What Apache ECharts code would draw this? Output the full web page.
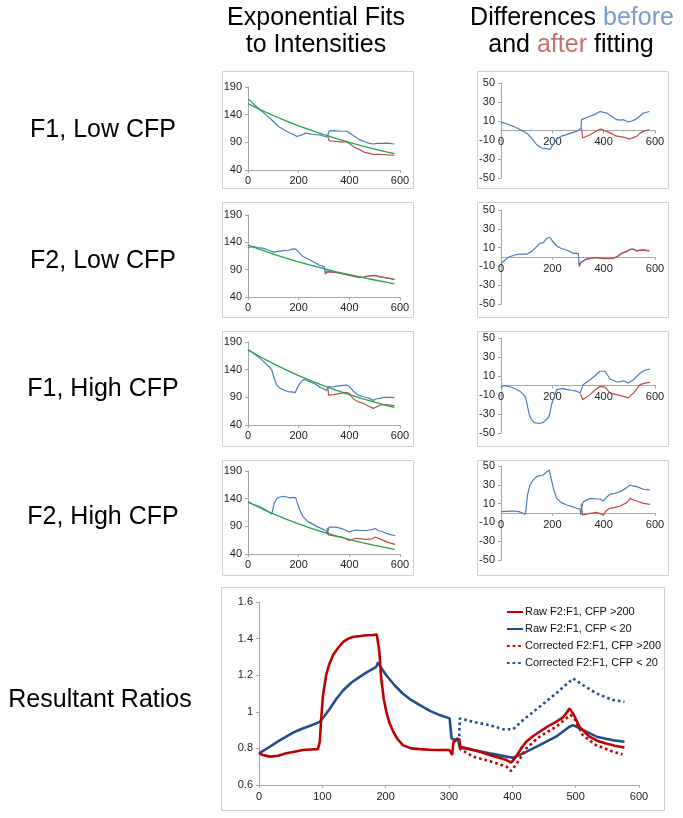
<!DOCTYPE html>
<html><head><meta charset="utf-8">
<script src="https://cdn.jsdelivr.net/npm/echarts@6/dist/echarts.min.js"></script>
<style>html,body{margin:0;padding:0;background:#fff}#c{width:683px;height:818px}</style>
</head><body><div id="c"></div><script>
// ---------- DATA (x, value) ----------
const f1LowBlue = [[0,168],[10,165],[25,158],[48,149],[70,140],[95,130],[121,118.6],[145,112],[167,106.5],[180,104],[193,100.5],[210,103],[226,106.5],[250,105],[270,104],[285,103.5],[300,101],[312,100],[316,104],[320,110.8],[340,111],[365,110],[390,110],[410,104],[430,98],[443,94.4],[460,91],[480,88],[495,87],[510,88],[530,88],[550,88.5],[578,87]];
const f1LowRed = [[316,100],[320,92.6],[340,92],[365,91],[385,91],[400,88],[415,83],[430,79],[443,76.3],[460,72],[480,70],[495,68],[510,68.5],[530,68],[550,67.5],[578,67]];
const f1LowFit = [[0,160],[50,148.7],[100,138.5],[150,128.9],[200,119.9],[250,111.5],[300,103.8],[350,96.6],[400,89.8],[450,83.6],[500,77.8],[550,72.3],[578,69.5]];
const f1LowDiffBlue = [[0,8],[10,8.5],[30,6],[48,4.4],[70,1.5],[87,-0.9],[105,-4],[119,-7.9],[139,-15],[158,-18.4],[178,-19],[191,-20],[200,-16],[217,-9],[235,-6],[256,-4.4],[275,-2.5],[295,-0.9],[312,2.6],[314,11.4],[320,12],[347,15],[365,17],[386,20],[400,19],[412,18.4],[430,15],[451,11.4],[465,11],[477,11.4],[496,9],[510,10],[522,11.4],[540,15],[555,18.4],[578,20]];
const f1LowDiffRed = [[314,2],[318,-7.9],[347,-4.4],[365,-1.5],[386,1.6],[400,0.5],[412,-0.9],[430,-3],[451,-6],[477,-7],[490,-8],[503,-9],[516,-7.5],[529,-6],[540,-3],[555,-0.9],[578,1]];

const f2LowBlue = [[0,129.5],[10,131.5],[22,132],[40,130.5],[62,129],[80,126],[101,122],[120,123.5],[140,125],[160,125.5],[178,128],[190,127],[200,122],[217,114],[235,110],[256,105],[282,98],[301,95.5],[305,82],[309,88],[314,86.5],[330,86],[347,85],[370,83],[399,80],[420,78],[438,76],[455,76],[470,78],[490,79],[503,79.5],[520,77],[540,75.5],[560,74],[578,72]];
const f2LowRed = [[305,82],[314,86],[347,84.8],[370,82.8],[399,79.8],[420,77.6],[438,75.8],[455,76],[470,78],[490,79],[503,79.3],[520,76.8],[540,75.3],[560,73.8],[578,71.8]];
const f2LowFit = [[0,135],[50,126.5],[100,118.5],[150,111.2],[200,104.3],[250,98],[300,91.7],[350,86.1],[400,80.8],[450,75.8],[500,71.1],[550,66.8],[578,64]];
const f2LowDiffBlue = [[0,-6.7],[8,-5],[16,-3.2],[30,0],[55,2.1],[70,3],[87,3.2],[100,3],[106,3.2],[120,6],[132,9.2],[152,14.5],[165,15.2],[178,19.9],[185,21],[191,21],[200,17],[217,11.7],[235,9],[256,7.4],[282,3.9],[301,3.9],[303,2],[305,-10],[310,-6],[314,-5],[330,-2.5],[347,-1.4],[370,-0.5],[399,-1.4],[420,-1.5],[438,-1.4],[455,1],[470,3.9],[490,6],[503,8.2],[515,8.5],[529,6.7],[550,7.5],[578,6.7]];
const f2LowDiffRed = [[305,-10],[310,-6],[314,-5],[330,-2.7],[347,-1.6],[370,-0.7],[399,-1.6],[420,-1.7],[438,-1.6],[455,0.8],[470,3.7],[490,5.8],[503,8],[515,8.3],[529,6.5],[550,7.3],[578,6.5]];

const f1HighBlue = [[0,176],[20,170],[49,160],[70,151],[88,143],[95,138],[101,128],[107,120],[114,112],[125,107],[140,103.5],[160,100],[173,100],[186,98.5],[190,100],[200,112],[210,118],[219,122],[230,121],[245,118],[265,114],[285,108],[300,105],[311,102],[315,109],[340,109.5],[364,111],[390,112],[400,110],[416,101],[435,94],[456,91],[475,89],[495,84.5],[505,87],[521,88],[534,90],[560,90],[578,89.5]];
const f1HighRed = [[315,109],[318,94],[340,95],[364,97],[386,99],[400,97],[416,87],[435,82],[456,79],[477,74],[495,70],[505,72],[521,76],[542,77],[560,76],[578,75]];
const f1HighFit = [[0,176],[50,162.9],[100,150.8],[150,139.6],[200,129.2],[250,119.6],[300,110.7],[350,102.5],[400,94.9],[450,87.8],[500,81.3],[550,75.2],[578,72]];
const f1HighDiffBlue = [[0,-2.6],[9,0],[30,-1],[48,-2.6],[74,-6],[94,-11.4],[98,-15],[103,-22],[110,-30],[119,-36],[129,-39],[139,-39.5],[150,-40],[165,-38.8],[184,-34],[190,-30],[197,-20],[207,-12],[217,-4.4],[223,-2.6],[240,-3],[256,-4.4],[275,-5],[295,-6],[308,-8],[310,-9],[320,0.9],[347,6],[365,10],[386,15],[405,15],[425,6.8],[451,3.7],[465,4],[477,5],[496,2.6],[516,6],[542,13],[560,16],[581,17.4]];
const f1HighDiffRed = [[310,-9],[318,-15],[347,-9.6],[365,-5],[386,-0.9],[405,-1.6],[425,-8],[451,-9.6],[477,-11.4],[496,-13],[516,-8],[542,0.9],[560,2.5],[581,3.3]];

const f2HighBlue = [[0,135],[20,130],[48,125.4],[70,119.5],[94,112.5],[97,118],[103,131],[113,139.8],[125,143],[139,144],[154,143],[165,141.5],[178,142.5],[188,142],[195,132],[204,120],[217,107.5],[235,99],[256,94],[275,89],[295,85],[308,82],[312,75.5],[320,88.5],[347,88.5],[370,86],[386,83],[399,80],[425,83.3],[445,82.5],[464,82.5],[490,84],[503,86],[515,82],[529,80.7],[555,76],[581,73]];
const f2HighRed = [[312,87],[318,74.5],[347,72.3],[373,70.2],[399,64.4],[425,68.4],[464,66.6],[490,67.5],[503,70.8],[529,65.5],[555,60.6],[581,57.3]];
const f2HighFit = [[0,134],[50,122.7],[100,112.4],[150,102.9],[200,94.3],[250,86.3],[300,79.1],[350,72.4],[400,66.3],[450,60.7],[500,55.6],[550,50.9],[578,48.4]];
const f2HighDiffBlue = [[0,1.4],[20,1.8],[48,2.1],[70,1.5],[94,-1.4],[98,5],[103,19],[113,29.8],[125,35],[139,38.7],[154,40],[165,40.4],[178,44],[188,45.7],[195,37],[204,26.2],[217,15.6],[235,11],[256,8.5],[275,7],[295,5],[308,4.3],[311,-2],[314,5],[320,12],[347,15.6],[370,15],[386,14.9],[399,12.8],[412,17],[425,19.9],[445,21],[464,22.7],[490,27],[503,29.8],[515,28.5],[529,28],[555,25.2],[581,24.5]];
const f2HighDiffRed = [[312,10],[314,5],[318,-2],[347,-0.4],[373,0.7],[399,-2],[412,3],[425,5],[445,6],[464,7.4],[490,11],[503,15.6],[515,14],[529,12.8],[555,10.3],[581,9.2]];

const rawHigh = [[0,0.775],[5,0.765],[17,0.755],[30,0.76],[43,0.773],[56,0.782],[69,0.791],[82,0.794],[93,0.796],[96,0.836],[98,0.95],[101,1.09],[106,1.2],[111,1.26],[117,1.31],[125,1.35],[133,1.382],[141,1.40],[148,1.409],[160,1.414],[169,1.418],[180,1.42],[186,1.422],[188,1.418],[190,1.33],[193,1.18],[197,1.07],[201,1.0],[206,0.94],[212,0.891],[219,0.85],[227,0.818],[240,0.80],[254,0.796],[270,0.793],[285,0.791],[301,0.791],[305,0.764],[307,0.836],[312,0.845],[316,0.851],[318,0.809],[330,0.80],[338,0.791],[350,0.78],[364,0.764],[378,0.75],[391,0.736],[398,0.722],[406,0.755],[414,0.80],[422,0.836],[432,0.865],[443,0.891],[456,0.92],[469,0.945],[480,0.97],[487,1.0],[490,1.018],[496,0.991],[501,0.955],[506,0.918],[514,0.89],[522,0.864],[535,0.84],[548,0.827],[562,0.815],[577,0.805]];
const rawLow = [[0,0.773],[17,0.809],[30,0.838],[43,0.864],[56,0.89],[69,0.909],[82,0.925],[96,0.945],[104,0.98],[112,1.018],[122,1.07],[133,1.118],[146,1.16],[159,1.191],[172,1.22],[185,1.245],[188,1.27],[194,1.235],[201,1.2],[214,1.145],[227,1.1],[240,1.065],[254,1.036],[270,1.005],[285,0.982],[301,0.964],[304,0.855],[309,0.845],[314,0.855],[317,0.804],[338,0.791],[364,0.773],[391,0.755],[401,0.749],[417,0.773],[443,0.818],[469,0.864],[490,0.918],[496,0.927],[512,0.9],[533,0.864],[559,0.845],[577,0.836]];
const corrHigh = [[316,0.80],[318,0.791],[338,0.755],[364,0.731],[391,0.7],[398,0.676],[409,0.727],[422,0.8],[443,0.864],[469,0.918],[485,0.964],[492,0.982],[498,0.964],[511,0.873],[532,0.818],[559,0.782],[574,0.767]];
const corrLow = [[316,0.836],[317,0.964],[338,0.945],[364,0.927],[385,0.905],[401,0.905],[417,0.955],[443,1.027],[469,1.1],[496,1.182],[512,1.145],[533,1.1],[559,1.064],[577,1.055]];

const rowLabels = ['F1, Low CFP','F2, Low CFP','F1, High CFP','F2, High CFP'];
const legendNames = ['Raw F2:F1, CFP >200','Raw F2:F1, CFP < 20','Corrected F2:F1, CFP >200','Corrected F2:F1, CFP < 20'];
const intensityTicks = {min:40, max:190, interval:50};
const diffTicks = {min:-50, max:50, interval:20};
const ratioTicks = {min:0.6, max:1.6, interval:0.2};

// ---------- LAYOUT ----------
const FONT = "'Liberation Sans', Arial, sans-serif";
const BLUE = '#4A7DBA', RED = '#BE4B48', GREEN = '#22A24B';
const BIGRED = '#C00000', BIGBLUE = '#1F4E8A';
const leftGrids = [{top:87,height:83},{top:215,height:82},{top:342,height:83},{top:471,height:83}];
const rightGrids = [{top:83,height:95},{top:210,height:94},{top:338,height:95},{top:466,height:94}];
const rowCenters = [130,261,389,517];
const boxTop = [71,202,331,460], boxBottom = [188,317,446,575];

const grids = [], xAxes = [], yAxes = [], series = [];
function axisStyle(){
  return {
    axisLine:{show:true, onZero:true, lineStyle:{color:'#A6A6A6', width:1}},
    axisTick:{show:true, length:3, lineStyle:{color:'#A6A6A6'}},
    splitLine:{show:false},
  };
}
function addGrid(g, xr, yr, xLabelMargin, yLabelMargin){
  const idx = grids.length;
  grids.push(g);
  xAxes.push(Object.assign({gridIndex:idx, type:'value', min:xr.min, max:xr.max, interval:xr.interval,
    axisLabel:{fontSize:11, color:'#222', fontFamily:FONT, margin:xLabelMargin}}, axisStyle()));
  yAxes.push(Object.assign({gridIndex:idx, type:'value', min:yr.min, max:yr.max, interval:yr.interval,
    axisLabel:{fontSize:11, color:'#222', fontFamily:FONT, margin:yLabelMargin}}, axisStyle()));
  return idx;
}
function line(idx, data, color, width, extra){
  series.push(Object.assign({type:'line', xAxisIndex:idx, yAxisIndex:idx, data:data, symbol:'none', showSymbol:false,
    animation:false, lineStyle:{color:color, width:width}, itemStyle:{color:color}, silent:true}, extra||{}));
}
const xr = {min:0, max:600, interval:200};
const leftData = [[f1LowBlue,f1LowRed,f1LowFit],[f2LowBlue,f2LowRed,f2LowFit],[f1HighBlue,f1HighRed,f1HighFit],[f2HighBlue,f2HighRed,f2HighFit]];
const rightData = [[f1LowDiffBlue,f1LowDiffRed],[f2LowDiffBlue,f2LowDiffRed],[f1HighDiffBlue,f1HighDiffRed],[f2HighDiffBlue,f2HighDiffRed]];
for(let i=0;i<4;i++){
  const li = addGrid({left:248, width:152, top:leftGrids[i].top, height:leftGrids[i].height}, xr, intensityTicks, 5, 6);
  line(li, leftData[i][0], BLUE, 1.2);
  line(li, leftData[i][1], RED, 1.2);
  line(li, leftData[i][2], GREEN, 1.3);
  // x labels sit just under the zero line (axis crosses at 0)
  const ri = addGrid({left:501, width:154, top:rightGrids[i].top, height:rightGrids[i].height}, xr, diffTicks, 6 - rightGrids[i].height/2, 6);
  line(ri, rightData[i][0], BLUE, 1.2);
  line(ri, rightData[i][1], RED, 1.2);
}
const bi = addGrid({left:259, width:380, top:602, height:183}, {min:0,max:600,interval:100}, ratioTicks, 6, 6);
yAxes[bi].axisLabel.formatter = v => String(+v.toFixed(1));
line(bi, rawLow, BIGBLUE, 2.6, {name:legendNames[1]});
line(bi, rawHigh, BIGRED, 2.6, {name:legendNames[0]});
line(bi, corrHigh, BIGRED, 2.6, {name:legendNames[2], lineStyle:{color:BIGRED, width:2.6, type:[2.6,3]}});
line(bi, corrLow, BIGBLUE, 2.6, {name:legendNames[3], lineStyle:{color:BIGBLUE, width:2.6, type:[2.6,3]}});

const graphic = [];
for(let i=0;i<4;i++){
  graphic.push({type:'rect', shape:{x:222.5, y:boxTop[i]+0.5, width:191, height:boxBottom[i]-boxTop[i]}, style:{fill:null, stroke:'#D0D0D0', lineWidth:1}, silent:true});
  graphic.push({type:'rect', shape:{x:477.5, y:boxTop[i]+0.5, width:191, height:boxBottom[i]-boxTop[i]}, style:{fill:null, stroke:'#D0D0D0', lineWidth:1}, silent:true});
  graphic.push({type:'text', x:103, y:rowCenters[i], style:{text:rowLabels[i], font:'25px '+FONT, fill:'#000', textAlign:'center', textVerticalAlign:'middle'}});
}
graphic.push({type:'rect', shape:{x:221.5, y:587.5, width:443, height:223}, style:{fill:null, stroke:'#D0D0D0', lineWidth:1}, silent:true});
graphic.push({type:'text', x:100, y:700, style:{text:'Resultant Ratios', font:'25px '+FONT, fill:'#000', textAlign:'center', textVerticalAlign:'middle'}});
graphic.push({type:'text', x:316, y:18, style:{text:'Exponential Fits', font:'25px '+FONT, fill:'#000', textAlign:'center', textVerticalAlign:'middle'}});
graphic.push({type:'text', x:316, y:45, style:{text:'to Intensities', font:'25px '+FONT, fill:'#000', textAlign:'center', textVerticalAlign:'middle'}});
graphic.push({type:'text', x:572, y:18, style:{text:'Differences {b|before}', font:'25px '+FONT, fill:'#000', align:'center', verticalAlign:'middle',
  rich:{b:{fill:'#7A9CCB', font:'25px '+FONT}}}});
graphic.push({type:'text', x:571, y:45, style:{text:'and {a|after} fitting', font:'25px '+FONT, fill:'#000', align:'center', verticalAlign:'middle',
  rich:{a:{fill:'#C7706B', font:'25px '+FONT}}}});

const chart = echarts.init(document.getElementById('c'), null, {renderer:'canvas'});
chart.setOption({
  animation:false,
  backgroundColor:'#fff',
  grid:grids, xAxis:xAxes, yAxis:yAxes, series:series, graphic:graphic,
  legend:{data:legendNames, orient:'vertical', left:506, top:606, padding:0, itemWidth:16, itemHeight:10, itemGap:5,
    itemStyle:{opacity:0}, 
    textStyle:{fontSize:11, lineHeight:12, color:'#111', fontFamily:FONT, padding:[0,0,0,-3]}, selectedMode:false}
});
</script></body></html>
